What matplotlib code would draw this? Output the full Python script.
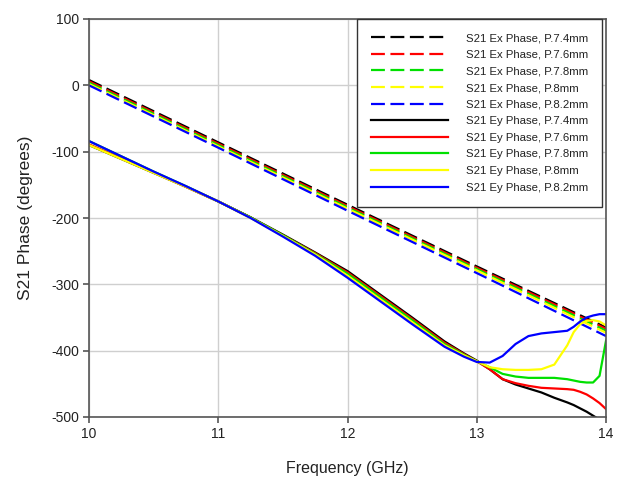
import matplotlib
matplotlib.use("Agg")
import matplotlib.pyplot as plt

plt.rcParams["font.family"] = ["Liberation Sans", "DejaVu Sans"]
plt.rcParams["lines.scale_dashes"] = False
plt.rcParams["axes.unicode_minus"] = False

# S21 phase vs frequency for the five periodicities (7.4 .. 8.2 mm)
periods = ["P.7.4mm", "P.7.6mm", "P.7.8mm", "P.8mm", "P.8.2mm"]
colors = ["#000000", "#ff0000", "#00e000", "#ffff00", "#0000ff"]

# Ex polarisation (dashed) - nearly linear phase
freq_ex = [10.0, 11.0, 12.0, 13.0, 14.0]
ex_74 = [8, -86, -180, -273, -365]
ex_76 = [6, -88, -182, -275, -367]
ex_78 = [4, -90, -184, -277, -370]
ex_80 = [2, -92, -186, -279, -373]
ex_82 = [0, -94, -189, -283, -378]

# Ey polarisation (solid)
freq_ey = [10.0, 10.25, 10.5, 10.75, 11.0, 11.25, 11.5, 11.75, 12.0, 12.25,
           12.5, 12.75, 12.9, 13.0, 13.1, 13.2, 13.3, 13.4, 13.5, 13.6, 13.7,
           13.75, 13.8, 13.85, 13.9, 13.95, 14.0]
ey_74 = [-90, -111, -132, -153, -175, -199, -225, -252, -280, -315,
         -350, -386, -404, -415, -428, -443, -451, -457, -463, -471, -478,
         -482, -487, -492, -498, -504, -512]
ey_76 = [-89, -110, -131, -153, -175, -199, -226, -253, -282, -317,
         -352, -388, -405, -416, -428, -443, -449, -453, -456, -457, -458,
         -459, -462, -466, -472, -479, -488]
ey_78 = [-84, -107, -130, -152, -175, -199, -226, -254, -284, -319,
         -354, -390, -406, -416, -425, -435, -439, -441, -441, -441, -443,
         -445, -447, -448, -448, -438, -385]
ey_80 = [-90, -111, -132, -153, -175, -200, -227, -255, -287, -322,
         -357, -392, -407, -416, -425, -428, -429, -429, -428, -421, -392,
         -372, -360, -355, -354, -356, -362]
ey_82 = [-84, -107, -130, -152, -175, -200, -228, -257, -290, -325,
         -360, -394, -409, -417, -418, -408, -390, -378, -374, -372, -370,
         -364, -356, -350, -347, -345, -345]

ex_series = [ex_74, ex_76, ex_78, ex_80, ex_82]
ey_series = [ey_74, ey_76, ey_78, ey_80, ey_82]

fig = plt.figure(figsize=(6.26, 4.83), dpi=100)
ax = fig.add_axes([89 / 626, 66 / 483, 517 / 626, 398 / 483])

for vals, c, p in zip(ex_series, colors, periods):
    ax.plot(freq_ex, vals, color=c, lw=1.6, dashes=(10, 4),
            label=f"S21 Ex Phase, {p}")
for vals, c, p in zip(ey_series, colors, periods):
    ax.plot(freq_ey, vals, color=c, lw=1.6, label=f"S21 Ey Phase, {p}")

ax.set_xlim(10, 14)
ax.set_ylim(-500, 100)
ax.set_xticks([10, 11, 12, 13, 14])
ax.set_yticks([-500, -400, -300, -200, -100, 0, 100])
ax.grid(True, color="#cfcfcf", lw=1.0)
ax.set_axisbelow(True)

for s in ax.spines.values():
    s.set_color("#555555")
    s.set_linewidth(1.2)
ax.tick_params(direction="out", length=4, width=1.2, color="#555555",
               labelsize=10, labelcolor="#222222", pad=3)

ax.set_xlabel("Frequency (GHz)", fontsize=11.5, color="#222222")
ax.set_ylabel("S21 Phase (degrees)", fontsize=12.5, color="#222222")
ax.xaxis.set_label_coords(0.5, -0.11)
ax.yaxis.set_label_coords(-0.108, 0.5)

leg = ax.legend(loc="upper right", bbox_to_anchor=(1 - 4 / 517, 1),
                borderaxespad=0, fontsize=8.2, handlelength=6.8,
                handletextpad=1.5, labelspacing=0.58, borderpad=1.25,
                fancybox=False, framealpha=1)
leg.get_frame().set_edgecolor("#333333")
leg.get_frame().set_linewidth(1.0)
for t in leg.get_texts():
    t.set_color("#222222")

fig.savefig("out.png", dpi=100)
